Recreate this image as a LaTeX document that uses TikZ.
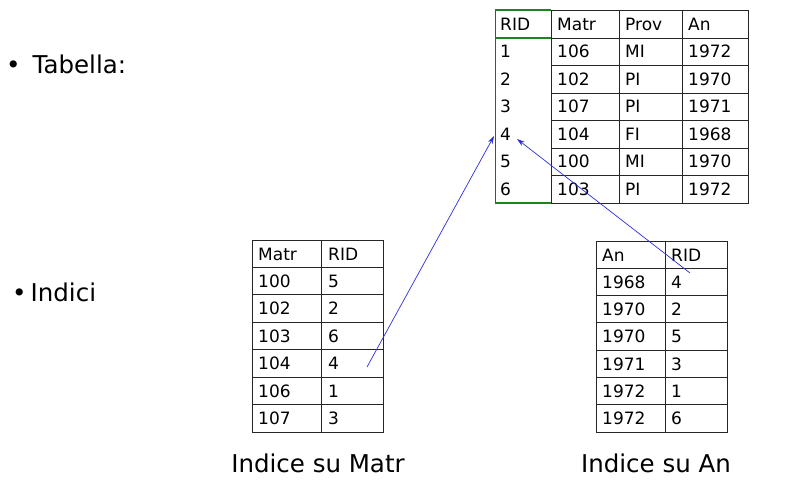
\documentclass[tikz,border=0pt]{standalone}
\usepackage{fontspec}
\setmainfont{DejaVu Sans}
\usetikzlibrary{arrows.meta}
\definecolor{arrowblue}{RGB}{45,45,215}
\definecolor{ridgreen}{RGB}{30,130,30}
\tikzset{
  cell/.style={anchor=west,inner sep=0pt,font=\fontsize{17}{19}\selectfont},
  grid/.style={line width=0.9pt,draw=black!85},
  greenline/.style={line width=1.1pt,draw=ridgreen},
  head/.style={anchor=west,inner sep=0pt,font=\fontsize{24.5}{28}\selectfont},
  caption/.style={anchor=center,inner sep=0pt,font=\fontsize{24.5}{28}\selectfont},
  ptr/.style={draw=arrowblue,line width=0.7pt,-{Stealth[length=8pt,width=5pt]}}
}
\begin{document}
\begin{tikzpicture}[x=1pt,y=-1pt]
\useasboundingbox (0,0) rectangle (799,483);
% headings
\node[head] (tab) at (6,64) {•\hspace{12pt}Tabella:};
\node[head] (ind) at (12,292) {•\hspace{4pt}Indici};
% ===== main table =====
\draw[grid,draw=black!70] (495,10) -- (495,203);
\draw[greenline] (495,10) -- (551,10);
\draw[greenline] (495,38) -- (551,38);
\draw[greenline] (495,203) -- (551,203);
\draw[grid] (551,10) rectangle (748,203);
\foreach \x in {619,682} \draw[grid] (\x,10) -- (\x,203);
\foreach \y in {38,65.5,93,120.5,148,175.5} \draw[grid] (551,\y) -- (748,\y);
\node[cell] (tRIDh) at (500,24) {RID};
\node[cell] (tMatrh) at (557,24) {Matr};
\node[cell] (tProvh) at (625,24) {Prov};
\node[cell] (tAnh) at (688,24) {An};
\foreach \r/\m/\p/\a [count=\i] in {1/106/MI/1972,2/102/PI/1970,3/107/PI/1971,4/104/FI/1968,5/100/MI/1970,6/103/PI/1972}{
  \pgfmathsetmacro{\yy}{38+27.5*(\i-1)+13.75}
  \node[cell] (tr\i) at (500,\yy) {\r};
  \node[cell] (tm\i) at (557,\yy) {\m};
  \node[cell] (tp\i) at (625,\yy) {\p};
  \node[cell] (ta\i) at (688,\yy) {\a};
}
% ===== index on Matr =====
\draw[grid] (252,240) rectangle (383,432);
\draw[grid] (321,240) -- (321,432);
\foreach \k in {1,...,6} \draw[grid] (252,240+27.43*\k) -- (383,240+27.43*\k);
\node[cell] (mh1) at (258,254) {Matr};
\node[cell] (mh2) at (328,254) {RID};
\foreach \m/\r [count=\i] in {100/5,102/2,103/6,104/4,106/1,107/3}{
  \pgfmathsetmacro{\yy}{240+27.43*\i+13.7}
  \node[cell] (mm\i) at (258,\yy) {\m};
  \node[cell] (mr\i) at (328,\yy) {\r};
}
% ===== index on An =====
\draw[grid] (596,241) rectangle (727,432);
\draw[grid] (665,241) -- (665,432);
\foreach \k in {1,...,6} \draw[grid] (596,241+27.3*\k) -- (727,241+27.3*\k);
\node[cell] (ah1) at (602,255) {An};
\node[cell] (ah2) at (671,255) {RID};
\foreach \m/\r [count=\i] in {1968/4,1970/2,1970/5,1971/3,1972/1,1972/6}{
  \pgfmathsetmacro{\yy}{241+27.3*\i+13.65}
  \node[cell] (am\i) at (602,\yy) {\m};
  \node[cell] (ar\i) at (671,\yy) {\r};
}
% captions
\node[caption] (cap1) at (318,463) {Indice su Matr};
\node[caption] (cap2) at (656,463) {Indice su An};
% pointers
\coordinate (p1s) at (367,367);
\coordinate (p1e) at (494,136);
\coordinate (p2s) at (690,273);
\coordinate (p2e) at (517,139);
\draw[ptr] (p1s) -- (p1e);
\draw[ptr] (p2s) -- (p2e);
\end{tikzpicture}
\end{document}
